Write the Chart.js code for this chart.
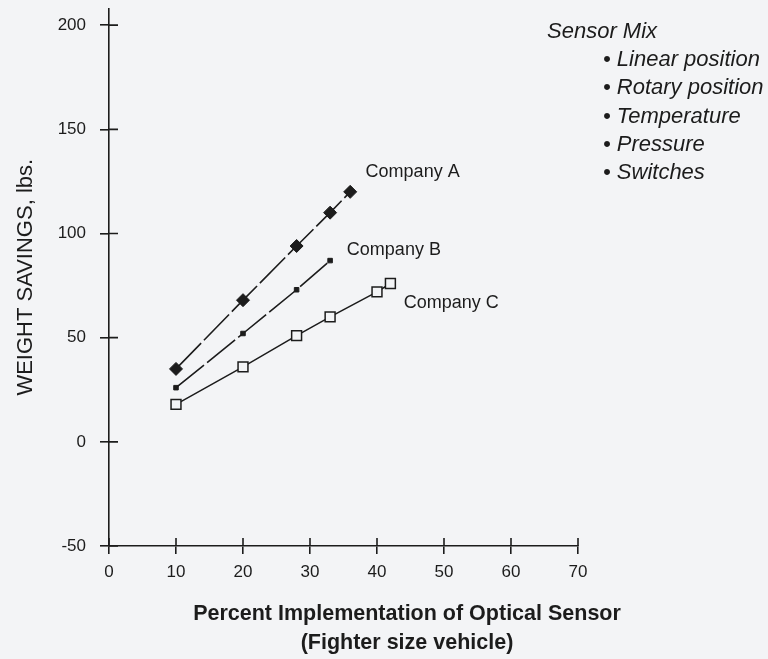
<!DOCTYPE html>
<html>
<head>
<meta charset="utf-8">
<title>Weight savings vs optical sensor implementation</title>
<script src="https://cdn.jsdelivr.net/npm/chart.js@4.4.0/dist/chart.umd.min.js"></script>
<style>
  body { margin: 0; background: #f3f4f6; }
  #wrap { width: 768px; height: 659px; }
</style>
</head>
<body>
<div id="wrap"><canvas id="chart" width="768" height="659"></canvas></div>
<script>
// values (percent implementation, weight savings in lbs)
const pctA = [10, 20, 28, 33, 36];
const savA = [35, 68, 94, 110, 120];
const pctB = [10, 20, 28, 33];
const savB = [26, 52, 73, 87];
const pctC = [10, 20, 28, 33, 40, 42];
const savC = [18, 36, 51, 60, 72, 76];

const companyNames = ['Company A', 'Company B', 'Company C'];
// where the names sit, in data units
const nameX = [38.3, 35.5, 44.0];
const nameY = [129.5, 92.2, 66.5];

const sensorTitle = 'Sensor Mix';
const sensorList = ['Linear position', 'Rotary position', 'Temperature', 'Pressure', 'Switches'];

const xTicks = [0, 10, 20, 30, 40, 50, 60, 70];
const yTicks = [-50, 0, 50, 100, 150, 200];
const xTitle = ['Percent Implementation of Optical Sensor', '(Fighter size vehicle)'];
const yTitle = 'WEIGHT SAVINGS, lbs.';

const INK = '#1c1c1c';
const PAPER = '#f3f4f6';
const FONT = "'Liberation Sans', Arial, Helvetica, sans-serif";

const toPoints = (xs, ys) => xs.map((x, i) => ({ x: x, y: ys[i] }));

// the tick marks in the original cross the axis, chart.js only draws the outer half
const extras = {
    id: 'extras',
    afterDraw(chart) {
        const ctx = chart.ctx;
        const xs = chart.scales.x;
        const ys = chart.scales.y;
        const area = chart.chartArea;

        ctx.save();
        ctx.strokeStyle = INK;
        ctx.lineWidth = 1.6;
        ctx.beginPath();
        yTicks.forEach(v => {
            const py = ys.getPixelForValue(v);
            ctx.moveTo(area.left, py);
            ctx.lineTo(area.left + 9, py);
        });
        xTicks.forEach(v => {
            const px = xs.getPixelForValue(v);
            ctx.moveTo(px, area.bottom);
            ctx.lineTo(px, area.bottom - 8);
        });
        ctx.stroke();

        ctx.fillStyle = INK;
        ctx.textBaseline = 'middle';

        // company names next to their lines
        ctx.font = '18px ' + FONT;
        ctx.textAlign = 'left';
        companyNames.forEach((name, i) => {
            ctx.fillText(name, xs.getPixelForValue(nameX[i]), ys.getPixelForValue(nameY[i]));
        });

        // sensor mix note
        ctx.font = 'italic 22px ' + FONT;
        ctx.fillText(sensorTitle, 547, 32);
        sensorList.forEach((s, i) => {
            ctx.fillText('\u2022 ' + s, 603, 60 + i * 28.2);
        });

        // x axis title, two lines
        ctx.font = 'bold 21.5px ' + FONT;
        ctx.textAlign = 'center';
        ctx.fillText(xTitle[0], 407, 614);
        ctx.fillText(xTitle[1], 407, 643);
        ctx.restore();
    }
};

new Chart(document.getElementById('chart'), {
    type: 'line',
    data: {
        datasets: [
            {
                label: companyNames[0],
                data: toPoints(pctA, savA),
                borderColor: INK,
                borderWidth: 1.6,
                borderDash: [36, 4],
                pointStyle: 'rectRot',
                pointRadius: 6.5,
                pointBackgroundColor: INK,
                pointBorderColor: INK,
                pointBorderWidth: 1
            },
            {
                label: companyNames[1],
                data: toPoints(pctB, savB),
                borderColor: INK,
                borderWidth: 1.6,
                borderDash: [36, 4],
                pointStyle: 'rect',
                pointRadius: 3.2,
                pointBackgroundColor: INK,
                pointBorderColor: INK,
                pointBorderWidth: 1
            },
            {
                label: companyNames[2],
                data: toPoints(pctC, savC),
                borderColor: INK,
                borderWidth: 1.5,
                pointStyle: 'rect',
                pointRadius: 7,
                pointBackgroundColor: PAPER,
                pointBorderColor: INK,
                pointBorderWidth: 1.5
            }
        ]
    },
    options: {
        responsive: false,
        animation: false,
        events: [],
        layout: { padding: { top: 6, right: 190, left: 0, bottom: 0 } },
        plugins: {
            legend: { display: false },
            tooltip: { enabled: false }
        },
        scales: {
            x: {
                type: 'linear',
                min: 0,
                max: 70,
                afterFit: s => { s.height = 113; s.paddingLeft = 0; s.paddingRight = 0; },
                afterBuildTicks: s => { s.ticks = xTicks.map(v => ({ value: v })); },
                border: { display: true, color: INK, width: 1.6 },
                grid: { drawOnChartArea: false, drawTicks: true, tickLength: 8, color: INK, lineWidth: 1.6 },
                ticks: { color: INK, padding: 8, font: { family: FONT, size: 17 }, maxRotation: 0 }
            },
            y: {
                min: -50,
                max: 208,
                afterFit: s => { s.width = 109; s.paddingTop = 0; s.paddingBottom = 0; },
                afterBuildTicks: s => { s.ticks = yTicks.map(v => ({ value: v })); },
                border: { display: true, color: INK, width: 1.6 },
                grid: { drawOnChartArea: false, drawTicks: true, tickLength: 9, color: INK, lineWidth: 1.6 },
                ticks: { color: INK, padding: 14, font: { family: FONT, size: 17 } },
                title: {
                    display: true,
                    text: yTitle,
                    color: INK,
                    font: { family: FONT, size: 22 },
                    padding: { top: 13, bottom: 0 }
                }
            }
        }
    },
    plugins: [extras]
});
</script>
</body>
</html>
